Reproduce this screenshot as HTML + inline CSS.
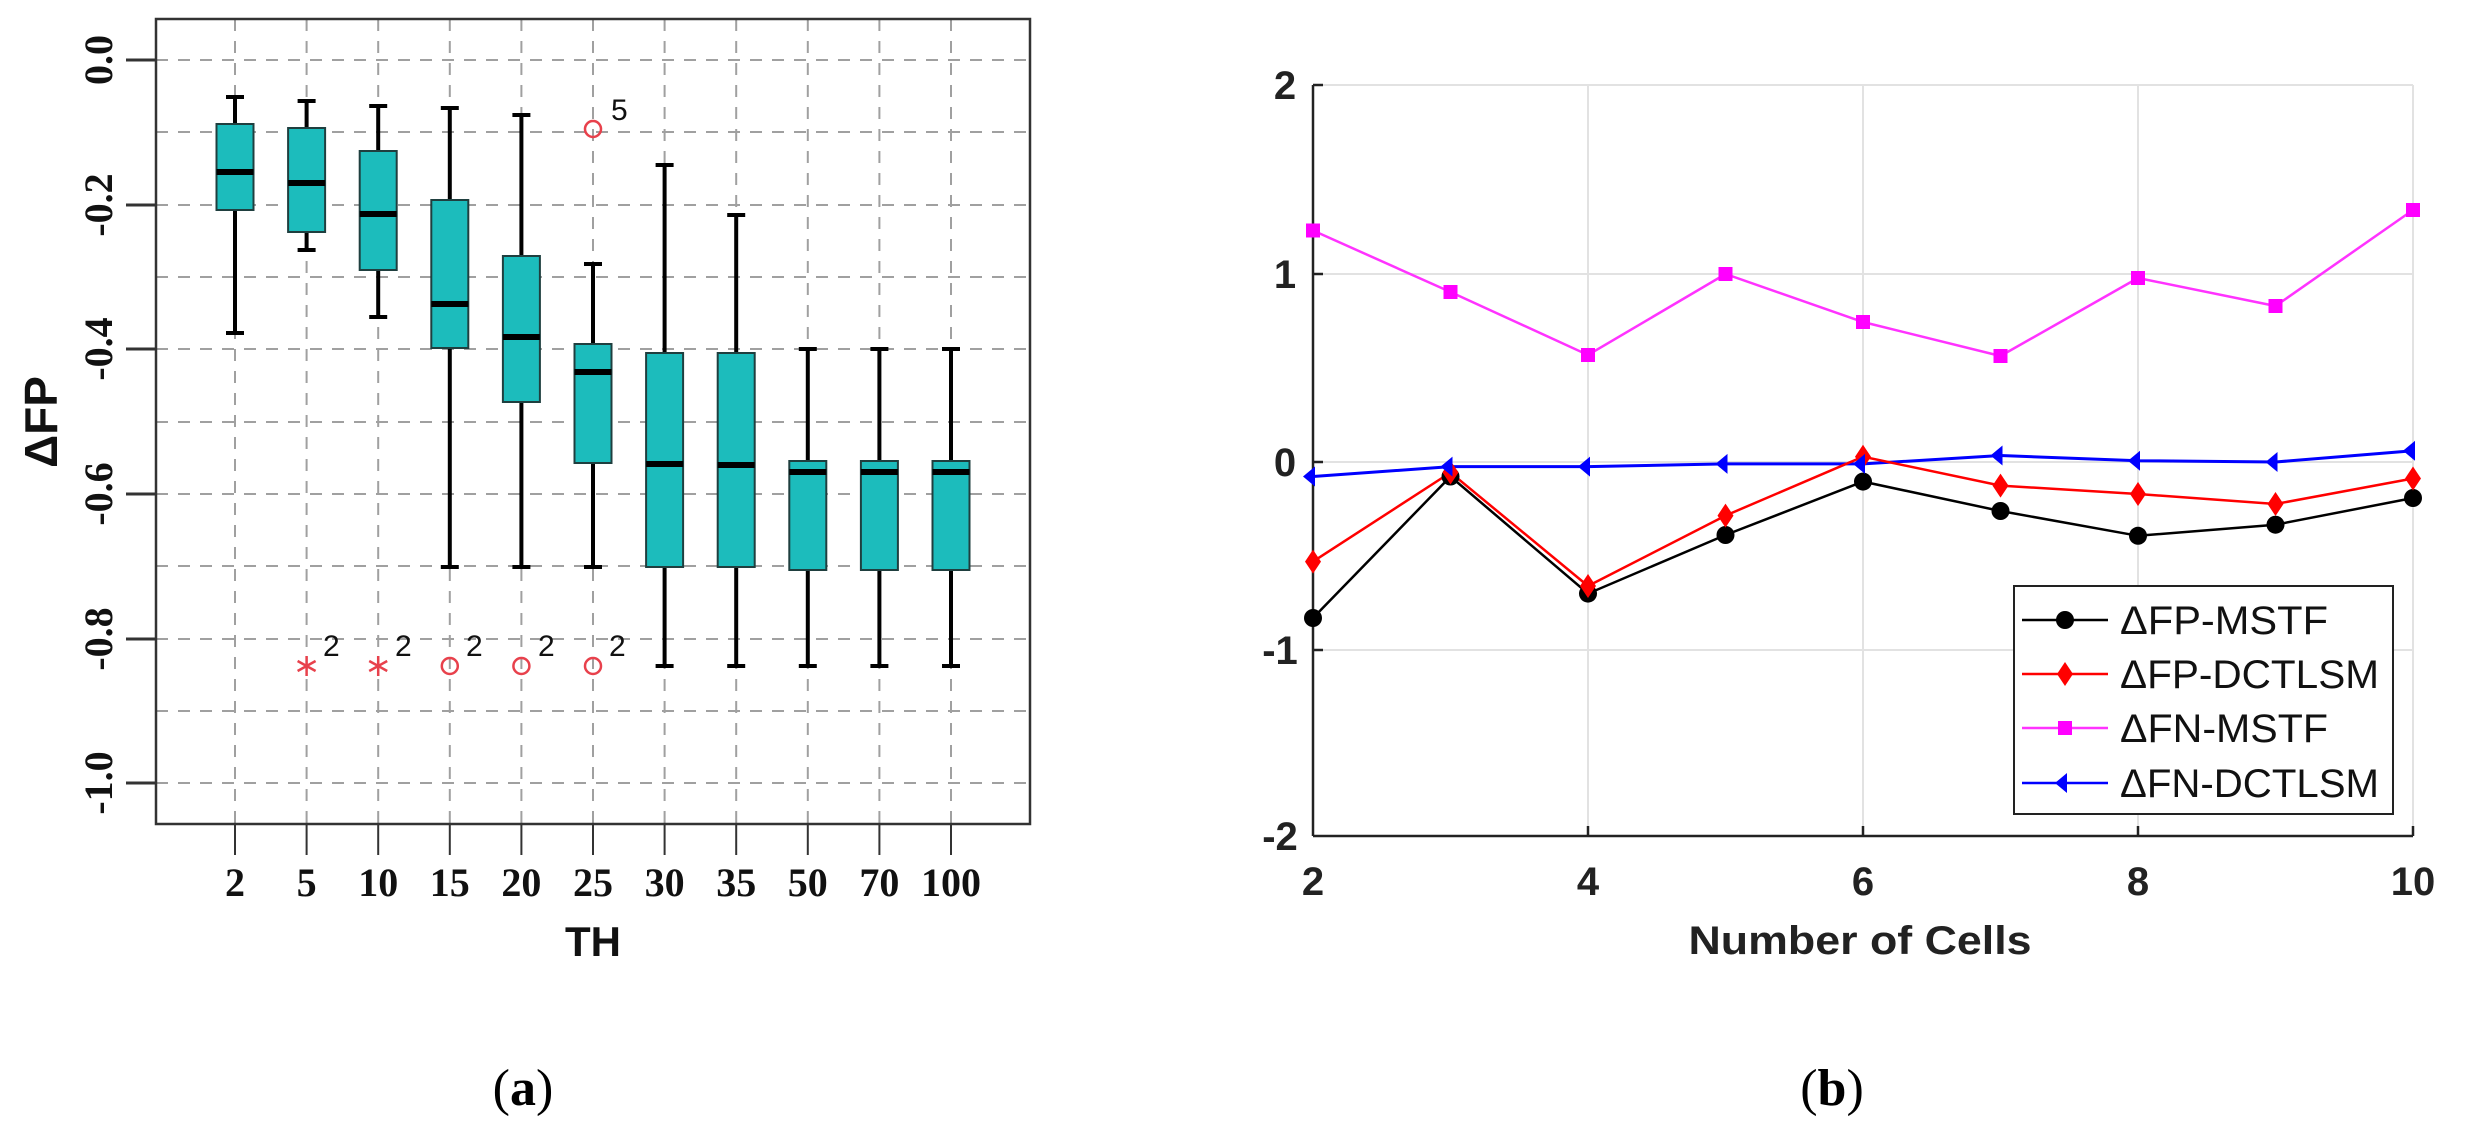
<!DOCTYPE html>
<html><head><meta charset="utf-8"><style>html,body{margin:0;padding:0;background:#fff}svg{display:block}</style></head>
<body>
<svg width="2471" height="1144" viewBox="0 0 2471 1144" xmlns="http://www.w3.org/2000/svg">
<rect width="2471" height="1144" fill="#fff"/>
<!-- LEFT PANEL -->
<g stroke="#a0a0a0" stroke-width="2" stroke-dasharray="12,10" fill="none">
<line x1="156" y1="60" x2="1030" y2="60"/><line x1="156" y1="132" x2="1030" y2="132"/><line x1="156" y1="205" x2="1030" y2="205"/><line x1="156" y1="277" x2="1030" y2="277"/><line x1="156" y1="349" x2="1030" y2="349"/><line x1="156" y1="422" x2="1030" y2="422"/><line x1="156" y1="494" x2="1030" y2="494"/><line x1="156" y1="566" x2="1030" y2="566"/><line x1="156" y1="639" x2="1030" y2="639"/><line x1="156" y1="711" x2="1030" y2="711"/><line x1="156" y1="783" x2="1030" y2="783"/>
<line x1="235" y1="19" x2="235" y2="824"/><line x1="306.6" y1="19" x2="306.6" y2="824"/><line x1="378.2" y1="19" x2="378.2" y2="824"/><line x1="449.8" y1="19" x2="449.8" y2="824"/><line x1="521.4" y1="19" x2="521.4" y2="824"/><line x1="593" y1="19" x2="593" y2="824"/><line x1="664.6" y1="19" x2="664.6" y2="824"/><line x1="736.2" y1="19" x2="736.2" y2="824"/><line x1="807.8" y1="19" x2="807.8" y2="824"/><line x1="879.4" y1="19" x2="879.4" y2="824"/><line x1="951" y1="19" x2="951" y2="824"/>
</g>
<rect x="156" y="19" width="874" height="805" fill="none" stroke="#333" stroke-width="2.5"/>
<g stroke="#333" stroke-width="3">
<line x1="126" y1="60" x2="156" y2="60"/><line x1="126" y1="205" x2="156" y2="205"/><line x1="126" y1="349" x2="156" y2="349"/><line x1="126" y1="494" x2="156" y2="494"/><line x1="126" y1="639" x2="156" y2="639"/><line x1="126" y1="783" x2="156" y2="783"/>
</g>
<g stroke="#333" stroke-width="2">
<line x1="235" y1="824" x2="235" y2="855"/><line x1="306.6" y1="824" x2="306.6" y2="855"/><line x1="378.2" y1="824" x2="378.2" y2="855"/><line x1="449.8" y1="824" x2="449.8" y2="855"/><line x1="521.4" y1="824" x2="521.4" y2="855"/><line x1="593" y1="824" x2="593" y2="855"/><line x1="664.6" y1="824" x2="664.6" y2="855"/><line x1="736.2" y1="824" x2="736.2" y2="855"/><line x1="807.8" y1="824" x2="807.8" y2="855"/><line x1="879.4" y1="824" x2="879.4" y2="855"/><line x1="951" y1="824" x2="951" y2="855"/>
</g>
<!-- whiskers -->
<g stroke="#000" stroke-width="4">
<line x1="235" y1="97" x2="235" y2="124"/><line x1="235" y1="210" x2="235" y2="333"/><line x1="226" y1="97" x2="244" y2="97"/><line x1="226" y1="333" x2="244" y2="333"/>
<line x1="306.6" y1="101" x2="306.6" y2="128"/><line x1="306.6" y1="232" x2="306.6" y2="250"/><line x1="297.6" y1="101" x2="315.6" y2="101"/><line x1="297.6" y1="250" x2="315.6" y2="250"/>
<line x1="378.2" y1="106" x2="378.2" y2="151"/><line x1="378.2" y1="270" x2="378.2" y2="317"/><line x1="369.2" y1="106" x2="387.2" y2="106"/><line x1="369.2" y1="317" x2="387.2" y2="317"/>
<line x1="449.8" y1="108" x2="449.8" y2="200"/><line x1="449.8" y1="348" x2="449.8" y2="567"/><line x1="440.8" y1="108" x2="458.8" y2="108"/><line x1="440.8" y1="567" x2="458.8" y2="567"/>
<line x1="521.4" y1="115" x2="521.4" y2="256"/><line x1="521.4" y1="402" x2="521.4" y2="567"/><line x1="512.4" y1="115" x2="530.4" y2="115"/><line x1="512.4" y1="567" x2="530.4" y2="567"/>
<line x1="593" y1="264" x2="593" y2="344"/><line x1="593" y1="463" x2="593" y2="567"/><line x1="584" y1="264" x2="602" y2="264"/><line x1="584" y1="567" x2="602" y2="567"/>
<line x1="664.6" y1="165" x2="664.6" y2="353"/><line x1="664.6" y1="567" x2="664.6" y2="666"/><line x1="655.6" y1="165" x2="673.6" y2="165"/><line x1="655.6" y1="666" x2="673.6" y2="666"/>
<line x1="736.2" y1="215" x2="736.2" y2="353"/><line x1="736.2" y1="567" x2="736.2" y2="666"/><line x1="727.2" y1="215" x2="745.2" y2="215"/><line x1="727.2" y1="666" x2="745.2" y2="666"/>
<line x1="807.8" y1="349" x2="807.8" y2="461"/><line x1="807.8" y1="570" x2="807.8" y2="666"/><line x1="798.8" y1="349" x2="816.8" y2="349"/><line x1="798.8" y1="666" x2="816.8" y2="666"/>
<line x1="879.4" y1="349" x2="879.4" y2="461"/><line x1="879.4" y1="570" x2="879.4" y2="666"/><line x1="870.4" y1="349" x2="888.4" y2="349"/><line x1="870.4" y1="666" x2="888.4" y2="666"/>
<line x1="951" y1="349" x2="951" y2="461"/><line x1="951" y1="570" x2="951" y2="666"/><line x1="942" y1="349" x2="960" y2="349"/><line x1="942" y1="666" x2="960" y2="666"/>
</g>
<g fill="#1cbcbc" stroke="#1f3f3f" stroke-width="2">
<rect x="216.5" y="124" width="37" height="86"/>
<rect x="288.1" y="128" width="37" height="104"/>
<rect x="359.7" y="151" width="37" height="119"/>
<rect x="431.3" y="200" width="37" height="148"/>
<rect x="502.9" y="256" width="37" height="146"/>
<rect x="574.5" y="344" width="37" height="119"/>
<rect x="646.1" y="353" width="37" height="214"/>
<rect x="717.7" y="353" width="37" height="214"/>
<rect x="789.3" y="461" width="37" height="109"/>
<rect x="860.9" y="461" width="37" height="109"/>
<rect x="932.5" y="461" width="37" height="109"/>
</g>
<g stroke="#000" stroke-width="6">
<line x1="216.5" y1="172" x2="253.5" y2="172"/><line x1="288.1" y1="183" x2="325.1" y2="183"/><line x1="359.7" y1="214" x2="396.7" y2="214"/><line x1="431.3" y1="304" x2="468.3" y2="304"/><line x1="502.9" y1="337" x2="539.9" y2="337"/><line x1="574.5" y1="372" x2="611.5" y2="372"/><line x1="646.1" y1="464" x2="683.1" y2="464"/><line x1="717.7" y1="465" x2="754.7" y2="465"/><line x1="789.3" y1="472" x2="826.3" y2="472"/><line x1="860.9" y1="472" x2="897.9" y2="472"/><line x1="932.5" y1="472" x2="969.5" y2="472"/>
</g>
<!-- outliers -->
<g fill="none" stroke="#e8414c" stroke-width="2.5">
<circle cx="593" cy="129" r="8"/><circle cx="449.8" cy="666" r="8"/><circle cx="521.4" cy="666" r="8"/><circle cx="593" cy="666" r="8"/>
<path d="M306.6 656v20M297.6 661l18 10M297.6 671l18-10M378.2 656v20M369.2 661l18 10M369.2 671l18-10"/>
</g>
<g font-family="Liberation Sans, sans-serif" font-size="30" fill="#111">
<text x="611" y="120">5</text><text x="323" y="656">2</text><text x="395" y="656">2</text><text x="466" y="656">2</text><text x="538" y="656">2</text><text x="609" y="656">2</text>
</g>
<g font-family="Liberation Serif, serif" font-weight="bold" font-size="40" fill="#111" text-anchor="middle">
<text x="235" y="896">2</text><text x="306.6" y="896">5</text><text x="378.2" y="896">10</text><text x="449.8" y="896">15</text><text x="521.4" y="896">20</text><text x="593" y="896">25</text><text x="664.6" y="896">30</text><text x="736.2" y="896">35</text><text x="807.8" y="896">50</text><text x="879.4" y="896">70</text><text x="951" y="896">100</text>
<g transform="translate(112,60) rotate(-90)"><text x="0" y="0">0.0</text></g>
<g transform="translate(112,205) rotate(-90)"><text x="0" y="0">-0.2</text></g>
<g transform="translate(112,349) rotate(-90)"><text x="0" y="0">-0.4</text></g>
<g transform="translate(112,494) rotate(-90)"><text x="0" y="0">-0.6</text></g>
<g transform="translate(112,639) rotate(-90)"><text x="0" y="0">-0.8</text></g>
<g transform="translate(112,783) rotate(-90)"><text x="0" y="0">-1.0</text></g>
</g>
<text x="593" y="956" font-family="Liberation Sans, sans-serif" font-weight="bold" font-size="42" text-anchor="middle" fill="#111">TH</text>
<g transform="translate(57,422) rotate(-90)"><text x="0" y="0" font-family="Liberation Sans, sans-serif" font-weight="bold" font-size="46" text-anchor="middle" fill="#111">ΔFP</text></g>
<text x="523" y="1105" font-family="Liberation Serif, serif" font-size="52" text-anchor="middle" fill="#000">(<tspan font-weight="bold">a</tspan>)</text>

<!-- RIGHT PANEL -->
<g stroke="#e2e2e2" stroke-width="2">
<line x1="1313" y1="85" x2="2413" y2="85"/><line x1="1313" y1="274" x2="2413" y2="274"/><line x1="1313" y1="462" x2="2413" y2="462"/><line x1="1313" y1="650" x2="2413" y2="650"/>
<line x1="1588" y1="85" x2="1588" y2="836"/><line x1="1863" y1="85" x2="1863" y2="836"/><line x1="2138" y1="85" x2="2138" y2="836"/><line x1="2413" y1="85" x2="2413" y2="836"/>
</g>
<g stroke="#222" stroke-width="2.5"><line x1="1313" y1="85" x2="1313" y2="836"/><line x1="1313" y1="836" x2="2413" y2="836"/>
<line x1="1313" y1="85" x2="1323" y2="85"/><line x1="1313" y1="274" x2="1323" y2="274"/><line x1="1313" y1="462" x2="1323" y2="462"/><line x1="1313" y1="650" x2="1323" y2="650"/>
<line x1="1588" y1="836" x2="1588" y2="826"/><line x1="1863" y1="836" x2="1863" y2="826"/><line x1="2138" y1="836" x2="2138" y2="826"/><line x1="2413" y1="836" x2="2413" y2="826"/></g>
<g font-family="Liberation Sans, sans-serif" font-weight="bold" font-size="40" fill="#222" text-anchor="middle">
<text x="1285" y="99">2</text><text x="1285" y="288">1</text><text x="1285" y="476">0</text><text x="1280" y="664">-1</text><text x="1280" y="850">-2</text>
<text x="1313" y="895">2</text><text x="1588" y="895">4</text><text x="1863" y="895">6</text><text x="2138" y="895">8</text><text x="2413" y="895">10</text>
<text x="1860" y="954" textLength="343" lengthAdjust="spacingAndGlyphs">Number of Cells</text>
</g>
<polyline fill="none" stroke="#ff33ff" stroke-width="2.5" points="1313,230.5 1450.5,292 1588,355 1725.5,274 1863,322 2000.5,356 2138,278 2275.5,306 2413,210"/>
<polyline fill="none" stroke="#0000ff" stroke-width="3" points="1313,476.5 1450.5,466.6 1588,466.6 1725.5,463.9 1863,463.9 2000.5,455.5 2138,460.7 2275.5,462 2413,450.8"/>
<polyline fill="none" stroke="#ff0000" stroke-width="2.5" points="1313,561.6 1450.5,472.5 1588,586 1725.5,515.6 1863,456.7 2000.5,485.6 2138,494 2275.5,504 2413,478.5"/>
<polyline fill="none" stroke="#000" stroke-width="2.5" points="1313,618 1450.5,476.5 1588,593.6 1725.5,535 1863,481.6 2000.5,511 2138,535.8 2275.5,524.7 2413,498"/>
<g fill="#ff00ff">
<rect x="1306" y="223.5" width="14" height="14"/><rect x="1443.5" y="285" width="14" height="14"/><rect x="1581" y="348" width="14" height="14"/><rect x="1718.5" y="267" width="14" height="14"/><rect x="1856" y="315" width="14" height="14"/><rect x="1993.5" y="349" width="14" height="14"/><rect x="2131" y="271" width="14" height="14"/><rect x="2268.5" y="299" width="14" height="14"/><rect x="2406" y="203" width="14" height="14"/>
</g>
<g fill="#000">
<circle cx="1313" cy="618" r="9"/><circle cx="1450.5" cy="476.5" r="9"/><circle cx="1588" cy="593.6" r="9"/><circle cx="1725.5" cy="535" r="9"/><circle cx="1863" cy="481.6" r="9"/><circle cx="2000.5" cy="511" r="9"/><circle cx="2138" cy="535.8" r="9"/><circle cx="2275.5" cy="524.7" r="9"/><circle cx="2413" cy="498" r="9"/>
</g>
<g fill="#ff0000">
<path d="M1313 549.6l8 12-8 12-8-12z"/><path d="M1450.5 460.5l8 12-8 12-8-12z"/><path d="M1588 574l8 12-8 12-8-12z"/><path d="M1725.5 503.6l8 12-8 12-8-12z"/><path d="M1863 444.7l8 12-8 12-8-12z"/><path d="M2000.5 473.6l8 12-8 12-8-12z"/><path d="M2138 482l8 12-8 12-8-12z"/><path d="M2275.5 492l8 12-8 12-8-12z"/><path d="M2413 466.5l8 12-8 12-8-12z"/>
</g>
<g fill="#0000ff">
<path d="M1303 476.5l12-10v20z"/><path d="M1440.5 466.6l12-10v20z"/><path d="M1578 466.6l12-10v20z"/><path d="M1715.5 463.9l12-10v20z"/><path d="M1853 463.9l12-10v20z"/><path d="M1990.5 455.5l12-10v20z"/><path d="M2128 460.7l12-10v20z"/><path d="M2265.5 462l12-10v20z"/><path d="M2403 450.8l12-10v20z"/>
</g>
<!-- legend -->
<rect x="2014" y="586" width="379" height="228" fill="#fff" stroke="#222" stroke-width="2"/>
<line x1="2022" y1="620" x2="2108" y2="620" stroke="#000" stroke-width="2.5"/><circle cx="2065" cy="620" r="9" fill="#000"/>
<line x1="2022" y1="674" x2="2108" y2="674" stroke="#f00" stroke-width="2.5"/><path d="M2065 662l8 12-8 12-8-12z" fill="#f00"/>
<line x1="2022" y1="728" x2="2108" y2="728" stroke="#f3f" stroke-width="2.5"/><rect x="2058" y="721" width="14" height="14" fill="#f0f"/>
<line x1="2022" y1="783" x2="2108" y2="783" stroke="#00f" stroke-width="2.5"/><path d="M2055 783l12-10v20z" fill="#00f"/>
<g font-family="Liberation Sans, sans-serif" font-size="40" fill="#111">
<text x="2120" y="634" textLength="208" lengthAdjust="spacingAndGlyphs">ΔFP-MSTF</text>
<text x="2120" y="688" textLength="259" lengthAdjust="spacingAndGlyphs">ΔFP-DCTLSM</text>
<text x="2120" y="742" textLength="208" lengthAdjust="spacingAndGlyphs">ΔFN-MSTF</text>
<text x="2120" y="797" textLength="259" lengthAdjust="spacingAndGlyphs">ΔFN-DCTLSM</text>
</g>
<text x="1832" y="1105" font-family="Liberation Serif, serif" font-size="52" text-anchor="middle" fill="#000">(<tspan font-weight="bold">b</tspan>)</text>
</svg>
</body></html>
